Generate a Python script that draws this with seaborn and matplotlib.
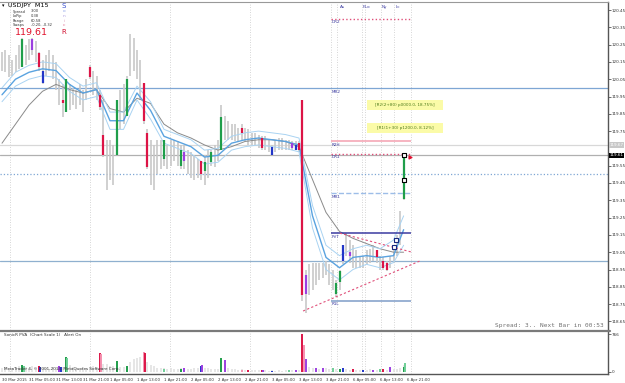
import numpy as np
import pandas as pd
import matplotlib
matplotlib.use("Agg")
import matplotlib.pyplot as plt
import matplotlib.transforms as mtransforms
import seaborn as sns

sns.set_style("white")
plt.rcParams['font.family'] = ['DejaVu Sans']

# ---------------- data (hourly samples) ----------------
highs = [120.21, 120.22, 120.19, 120.16, 120.19, 120.25, 120.29, 120.25, 120.28, 120.29,
         120.27, 120.21, 120.16, 120.19, 120.22, 120.19, 120.15, 120.05, 120.02, 120.05,
         120.02, 120.00, 119.99, 120.02, 119.99, 120.05, 120.13, 120.10, 120.07, 119.99,
         119.93, 119.70, 119.70, 119.67, 119.93, 119.99, 120.02, 120.07, 120.31, 120.29,
         120.22, 120.16, 120.02, 119.76, 119.70, 119.67, 119.70, 119.70, 119.70, 119.67,
         119.70, 119.70, 119.69, 119.67, 119.67, 119.64, 119.63, 119.61, 119.59, 119.58,
         119.61, 119.64, 119.64, 119.67, 119.70, 119.90, 119.84, 119.81, 119.79, 119.79,
         119.77, 119.79, 119.77, 119.76, 119.74, 119.74, 119.73, 119.72, 119.72, 119.70,
         119.67, 119.70, 119.71, 119.71, 119.70, 119.70, 119.69, 119.69, 119.69, 119.93,
         118.95, 118.98, 118.99, 118.99, 118.99, 118.99, 119.00, 118.98, 118.95, 118.89,
         118.95, 119.09, 119.16, 119.12, 119.09, 119.06, 119.03, 119.03, 119.06, 119.07,
         119.09, 119.06, 119.03, 119.02, 119.00, 119.03, 119.07, 119.15, 119.29, 119.62]
lows = [120.10, 120.09, 120.06, 120.07, 120.09, 120.11, 120.16, 120.13, 120.16, 120.19,
        120.15, 120.10, 120.02, 120.07, 120.10, 120.05, 119.99, 119.90, 119.83, 119.86,
        119.87, 119.90, 119.88, 119.90, 119.86, 119.93, 120.05, 119.96, 119.93, 119.87,
        119.60, 119.41, 119.47, 119.44, 119.61, 119.76, 119.79, 119.84, 120.07, 120.10,
        120.05, 119.93, 119.79, 119.53, 119.44, 119.41, 119.50, 119.53, 119.55, 119.53,
        119.55, 119.58, 119.55, 119.53, 119.53, 119.50, 119.48, 119.47, 119.48, 119.47,
        119.44, 119.48, 119.55, 119.54, 119.58, 119.64, 119.70, 119.70, 119.70, 119.69,
        119.69, 119.70, 119.69, 119.67, 119.67, 119.67, 119.65, 119.64, 119.64, 119.63,
        119.61, 119.63, 119.64, 119.64, 119.64, 119.64, 119.64, 119.64, 119.63, 118.77,
        118.70, 118.80, 118.83, 118.86, 118.89, 118.90, 118.92, 118.86, 118.83, 118.79,
        118.83, 118.98, 119.03, 118.99, 118.96, 118.96, 118.96, 118.96, 118.98, 118.99,
        119.00, 118.99, 118.95, 118.95, 118.94, 118.96, 118.99, 119.03, 119.09, 119.35]

# highlighted (coloured) candles: index, top, bottom, colour name
hl_idx = [6, 9, 11, 12, 18, 19, 26, 29, 30, 34, 37, 42, 43, 48, 53, 54, 59, 60, 62, 65,
          71, 77, 80, 86, 87, 88, 89, 90, 99, 100, 101, 103, 111, 113, 114, 119]
hl_top = [120.28, 120.28, 120.20, 120.10, 119.93, 120.05, 120.12, 119.96, 119.73, 119.93,
          120.05, 120.03, 119.74, 119.70, 119.64, 119.63, 119.58, 119.57, 119.63, 119.83,
          119.77, 119.71, 119.66, 119.68, 119.67, 119.68, 119.93, 118.92, 118.87, 118.94,
          119.09, 119.05, 119.06, 119.00, 118.99, 119.60]
hl_bot = [120.12, 120.22, 120.12, 120.03, 119.91, 119.86, 120.06, 119.89, 119.61, 119.61,
          119.84, 119.81, 119.54, 119.59, 119.55, 119.58, 119.50, 119.52, 119.57, 119.64,
          119.74, 119.65, 119.61, 119.65, 119.64, 119.64, 118.80, 118.81, 118.81, 118.88,
          119.00, 119.03, 119.02, 118.96, 118.95, 119.36]
hl_col = ["green", "purple", "red", "blue", "red", "green", "red", "red", "red", "green",
          "green", "red", "red", "green", "green", "purple", "red", "green", "green", "green",
          "red", "red", "blue", "purple", "blue", "red", "red", "purple", "green", "green",
          "blue", "purple", "red", "red", "red", "green"]

# moving averages sampled every 4 hours
ma_idx = [0, 4, 8, 12, 16, 20, 24, 28, 32, 36, 40, 44, 48, 52, 56, 60, 64, 68, 72, 76,
          80, 84, 88, 92, 96, 100, 104, 108, 112, 116, 119]
ma_slow = [119.68, 119.79, 119.90, 119.98, 120.02, 119.99, 119.97, 119.99, 119.88, 119.86,
           119.94, 119.91, 119.79, 119.74, 119.71, 119.67, 119.64, 119.66, 119.69, 119.70,
           119.70, 119.69, 119.66, 119.47, 119.28, 119.17, 119.13, 119.10, 119.07, 119.05, 119.05]
ma_mid = [119.96, 120.05, 120.09, 120.11, 120.10, 120.02, 119.97, 119.99, 119.81, 119.81,
          119.97, 119.87, 119.72, 119.69, 119.66, 119.60, 119.61, 119.68, 119.70, 119.71,
          119.70, 119.69, 119.67, 119.26, 119.02, 118.96, 119.02, 119.03, 119.02, 119.03, 119.18]
ma_up = [120.00, 120.09, 120.13, 120.15, 120.14, 120.06, 120.01, 120.03, 119.86, 119.86,
         120.01, 119.92, 119.76, 119.73, 119.70, 119.64, 119.65, 119.72, 119.74, 119.75,
         119.74, 119.73, 119.71, 119.32, 119.09, 119.03, 119.07, 119.09, 119.07, 119.12, 119.26]
ma_lo = [119.92, 120.01, 120.05, 120.07, 120.06, 119.98, 119.93, 119.95, 119.76, 119.76,
         119.93, 119.82, 119.68, 119.65, 119.62, 119.56, 119.57, 119.64, 119.66, 119.67,
         119.66, 119.65, 119.63, 119.19, 118.95, 118.89, 118.95, 118.98, 118.96, 118.99, 119.09]

# volume (grey background) per hour
vol = [80, 100, 70, 90, 110, 120, 140, 100, 90, 120,
       110, 130, 90, 80, 70, 100, 90, 120, 110, 130,
       140, 100, 80, 90, 110, 90, 100, 120, 110, 150,
       170, 160, 130, 120, 140, 110, 100, 120, 200, 260,
       280, 300, 240, 200, 150, 120, 90, 80, 90, 70,
       80, 70, 60, 80, 70, 60, 70, 90, 80, 100,
       90, 80, 70, 60, 70, 150, 110, 90, 70, 60,
       50, 60, 50, 40, 50, 40, 50, 40, 40, 30,
       40, 30, 40, 30, 40, 30, 40, 30, 40, 400,
       160, 100, 90, 80, 70, 60, 80, 60, 70, 60,
       60, 70, 60, 50, 60, 50, 40, 50, 40, 60,
       50, 40, 50, 60, 50, 40, 60, 70, 90, 150]
vol_hl_idx = [6, 6.4, 11, 11.4, 17, 17.4, 19, 19.4, 29, 29.4, 34, 37, 42, 42.4, 48, 53, 54,
              59, 59.4, 65, 66, 71, 73, 77, 77.4, 80, 85, 87, 89, 89.4, 90, 93, 95, 98,
              100, 101, 104, 107, 110, 112, 113, 115, 119, 119.4]
vol_hl_val = [141, 130, 120, 110, 120, 110, 308, 290, 377, 360, 228, 130, 409, 380, 70, 70, 80,
              130, 150, 276, 250, 50, 50, 45, 40, 30, 40, 45, 770, 544, 256, 80, 80, 80,
              70, 80, 70, 50, 40, 55, 65, 100, 107, 188]
vol_hl_col = ["green", "lgreen", "red", "blue", "purple", "blue", "green", "lgreen", "red", "pink",
              "green", "green", "pink", "red", "lgreen", "green", "purple", "blue", "purple", "green",
              "purple", "pink", "red", "red", "purple", "blue", "lgreen", "purple", "red", "pink",
              "purple", "purple", "purple", "lgreen", "green", "blue", "red", "blue", "purple", "lgreen",
              "red", "purple", "green", "lgreen"]

price_ticks = [120.45, 120.35, 120.25, 120.15, 120.05, 119.95, 119.85, 119.75, 119.55, 119.45,
               119.35, 119.25, 119.15, 119.05, 118.95, 118.85, 118.75, 118.65]
time_idx = [0, 8, 16, 24, 32, 40, 48, 56, 64, 72, 80, 88, 96, 104, 112, 120]
time_labels = ["30 Mar 2015", "31 Mar 05:00", "31 Mar 13:00", "31 Mar 21:00", "1 Apr 05:00",
               "1 Apr 13:00", "1 Apr 21:00", "2 Apr 05:00", "2 Apr 13:00", "2 Apr 21:00",
               "3 Apr 05:00", "3 Apr 13:00", "3 Apr 21:00", "6 Apr 05:00", "6 Apr 13:00",
               "6 Apr 21:00"]

day_sep = [2.4, 26.1, 49.8, 73.5, 97.5]
session_sep = [99.3, 106.7, 107.6, 112.3, 116.1, 121.2]
session_lbl_idx = [100.0, 106.9, 112.6, 116.6]
session_lbl = ["As", "F.Lo", "Ny", "Lc"]

level_names = ["DR2", "R2H", "DR1", "MR1", "PVT", "R1L"]
level_prices = [120.40, 119.69, 119.62, 119.39, 119.16, 118.77]
level_colors = ["#e0507a", "#f4a0b0", "#e0507a", "#9dbde8", "#3a3aa0", "#7f9cc8"]
level_styles = [":", "-", ":", "--", "-", "-"]
level_start, level_end = 97.5, 121.2

full_levels = [120.00, 119.67, 119.61, 119.50, 119.00]
full_colors = ["#7ea6d4", "#d8d8d8", "#b0b0b0", "#7ea6d4", "#8fb0cf"]
full_styles = ["-", "-", "-", ":", "-"]

trend_a_idx, trend_a_p = [100.1, 121.5], [119.16, 119.05]
trend_b_idx, trend_b_p = [89.2, 123.9], [118.71, 119.00]

last_price = 119.61
ask_price = 119.67

palette = {"green": "#1f9e4a", "lgreen": "#6fcf97", "red": "#dc1446", "pink": "#f58fae",
           "blue": "#2236c8", "purple": "#9b3fe0"}

# ---------------- figure ----------------
W, H = 625, 383
fig = plt.figure(figsize=(W / 100, H / 100), dpi=100)
fig.patch.set_facecolor("white")

def fx(px):
    return px / W

def fy(py):
    return 1 - py / H

ax = fig.add_axes([0, fy(330), fx(608), (330 - 2) / H])
axv = fig.add_axes([0, fy(374), fx(608), (374 - 332) / H])

k = np.arange(len(highs))
x_lo = -2 / 3.375
x_hi = 606 / 3.375
TFS = 3.0  # tick font size

# grey bars
ax.vlines(k, lows, highs, color="#c8c8c8", lw=1.2, zorder=2)
# coloured candles
for i, t, b, c in zip(hl_idx, hl_top, hl_bot, hl_col):
    ax.vlines(i, b, t, color=palette[c], lw=1.6, zorder=4)

# moving averages
ma = pd.DataFrame({"k": ma_idx, "slow": ma_slow, "mid": ma_mid, "up": ma_up, "lo": ma_lo})
sns.lineplot(data=ma, x="k", y="slow", ax=ax, color="#8a8a8a", lw=0.7, zorder=3)
sns.lineplot(data=ma, x="k", y="up", ax=ax, color="#a9d3f2", lw=0.7, zorder=3)
sns.lineplot(data=ma, x="k", y="lo", ax=ax, color="#a9d3f2", lw=0.7, zorder=3)
sns.lineplot(data=ma, x="k", y="mid", ax=ax, color="#5aa3e0", lw=1.0, zorder=3)

# full-width horizontal levels
for p, c, s in zip(full_levels, full_colors, full_styles):
    ax.axhline(p, color=c, ls=s, lw=0.9, zorder=1)

# day / session separators
for d in day_sep + session_sep:
    ax.axvline(d, color="#c8c8c8", ls=(0, (1, 2)), lw=0.6, zorder=0)
    axv.axvline(d, color="#c8c8c8", ls=(0, (1, 2)), lw=0.6, zorder=0)
trans_top = mtransforms.blended_transform_factory(ax.transData, ax.transAxes)
for xi, lab in zip(session_lbl_idx, session_lbl):
    ax.text(xi, 0.992, lab, transform=trans_top, fontsize=3.0, color="#3a3aa0",
            ha="left", va="top")

# pivot levels
for name, p, c, s in zip(level_names, level_prices, level_colors, level_styles):
    ax.hlines(p, level_start, level_end, color=c, ls=s, lw=1.0 if s != "-" else 1.1, zorder=3)
    ax.text(level_start + 0.2, p - 0.010, name, fontsize=3.0, color="#3a3aa0",
            ha="left", va="top", zorder=5)
ax.text(level_start + 0.2, full_levels[0] - 0.010, "MR2", fontsize=3.0, color="#3a3aa0",
        ha="left", va="top", zorder=5)

# trend lines
ax.plot(trend_a_idx, trend_a_p, color="#e0507a", ls=(0, (2, 2)), lw=0.8, zorder=3)
ax.plot(trend_b_idx, trend_b_p, color="#e0507a", ls=(0, (2, 2)), lw=0.8, zorder=3)

# markers near the last bars
ax.scatter([119, 119], [119.61, 119.47], marker="s", s=6, facecolor="white",
           edgecolor="black", lw=0.8, zorder=6)
ax.scatter([116.6, 116.0], [119.12, 119.08], marker="s", s=5, facecolor="white",
           edgecolor="#1a2a80", lw=0.8, zorder=6)
ax.scatter([121], [119.60], marker=">", s=4, color="#e01030", zorder=6)

# yellow info boxes
for y0, txt in [(100, "[R2(2+80) p0000.0, 18.75%]"), (123, "[R1(1+30) p1200.0, 8.12%]")]:
    fig.patches.append(plt.Rectangle((fx(367), fy(y0 + 10)), fx(443 - 367), 10 / H,
                                     transform=fig.transFigure, facecolor="#fbfba8",
                                     edgecolor="none", zorder=1))
    fig.text(fx(405), fy(y0 + 5), txt, fontsize=3.0, color="#4d7a1a",
             ha="center", va="center")

ax.set_xlim(x_lo, x_hi)
ax.set_ylim(120.45 - (330 - 10) / 173, 120.45 + 8 / 173)
ax.yaxis.tick_right()
ax.set_yticks(price_ticks)
ax.set_yticklabels([f"{p:.2f}" for p in price_ticks])
ax.tick_params(axis="y", labelsize=TFS, colors="#333333", length=2, width=0.5, pad=0.8)
ax.set_xticks([])
ax.set_xlabel("")
ax.set_ylabel("")
for s in ["left", "bottom"]:
    ax.spines[s].set_visible(False)
ax.spines["top"].set_color("#999999")
ax.spines["top"].set_linewidth(0.8)
ax.spines["right"].set_color("#555555")
ax.spines["right"].set_linewidth(1.0)

# price boxes on the axis
trans_r = mtransforms.blended_transform_factory(ax.transAxes, ax.transData)
ax.text(1.002, ask_price, f"{ask_price:.2f}", transform=trans_r, fontsize=TFS, color="white",
        ha="left", va="center", bbox=dict(boxstyle="square,pad=0.15", fc="#c8c8c8", ec="none"),
        zorder=10, clip_on=False)
ax.text(1.002, last_price, f"{last_price:.2f}", transform=trans_r, fontsize=TFS, color="white",
        ha="left", va="center", bbox=dict(boxstyle="square,pad=0.15", fc="black", ec="none"),
        zorder=10, clip_on=False)

# separator between panels
fig.add_artist(plt.Line2D([0, fx(610)], [fy(331), fy(331)], color="#7a7a7a", lw=1.6))

# ---------------- volume panel ----------------
axv.vlines(k, 0, vol, color="#e2e2e2", lw=1.2, zorder=1)
for i, v, c in zip(vol_hl_idx, vol_hl_val, vol_hl_col):
    axv.vlines(i, 0, v, color=palette[c], lw=1.4, zorder=3)
axv.set_xlim(x_lo, x_hi)
axv.set_ylim(-2 * 20.16, 766 + 2 * 20.16)
axv.yaxis.tick_right()
axv.set_yticks([0, 766])
axv.set_yticklabels(["0", "766"])
axv.tick_params(axis="y", labelsize=TFS, colors="#333333", length=2, width=0.5, pad=0.8)
axv.set_xticks(time_idx)
axv.set_xticklabels(time_labels, ha="left")
axv.tick_params(axis="x", labelsize=2.8, colors="#333333", length=2, width=0.5, pad=0.8)
for s in ["left", "top"]:
    axv.spines[s].set_visible(False)
axv.spines["bottom"].set_color("#555555")
axv.spines["right"].set_color("#555555")
axv.spines["bottom"].set_linewidth(1.0)
axv.spines["right"].set_linewidth(1.0)
axv.set_xlabel("")
axv.set_ylabel("")

fig.text(fx(4), fy(335), "SonicR PVA  (Chart Scale 1)   Alert On", fontsize=3.0,
         color="#333333", ha="left", va="center")
fig.text(fx(4), fy(369), "MetaTrader 4, \u00a9 2001-2014, MetaQuotes Software Corp.",
         fontsize=3.0, color="#333333", ha="left", va="center")
fig.text(fx(604), fy(326), "Spread: 3.. Next Bar in 00:53", fontsize=4.4,
         color="#707070", ha="right", va="center", family="DejaVu Sans Mono")

# ---------------- header texts ----------------
fig.text(fx(2), fy(5.5), "\u25be", fontsize=3.5, color="black", ha="left", va="center")
fig.text(fx(8), fy(5.5), "USDJPY  M15", fontsize=4.6, color="black", ha="left", va="center")
info = [("Spread", "3.00"), ("LoPip", "0.38"), ("Range", "60.58"), ("Swaps", "-0.20, -0.32")]
for j, (a, b) in enumerate(info):
    fig.text(fx(13), fy(11.5 + 4.6 * j), a, fontsize=2.6, color="#333333", ha="left", va="center")
    fig.text(fx(31), fy(11.5 + 4.6 * j), b, fontsize=2.6, color="#333333", ha="left", va="center")
fig.text(fx(15), fy(32.5), f"{last_price:.2f}", fontsize=6.8, color="#e0102a", ha="left",
         va="center")
sonic = [("S", "#3a50d0", 5.5, 5.0), ("o", "#8aa0e8", 11.5, 3.2), ("n", "#b0a0e0", 16, 3.2),
         ("i", "#e0a0c0", 20.5, 3.2), ("c", "#e07090", 25, 3.2), ("R", "#d01030", 31.5, 5.0)]
for ch, c, yy, fs in sonic:
    fig.text(fx(64), fy(yy), ch, fontsize=fs, color=c, ha="center", va="center")

fig.savefig("out.png", dpi=100, facecolor="white")
